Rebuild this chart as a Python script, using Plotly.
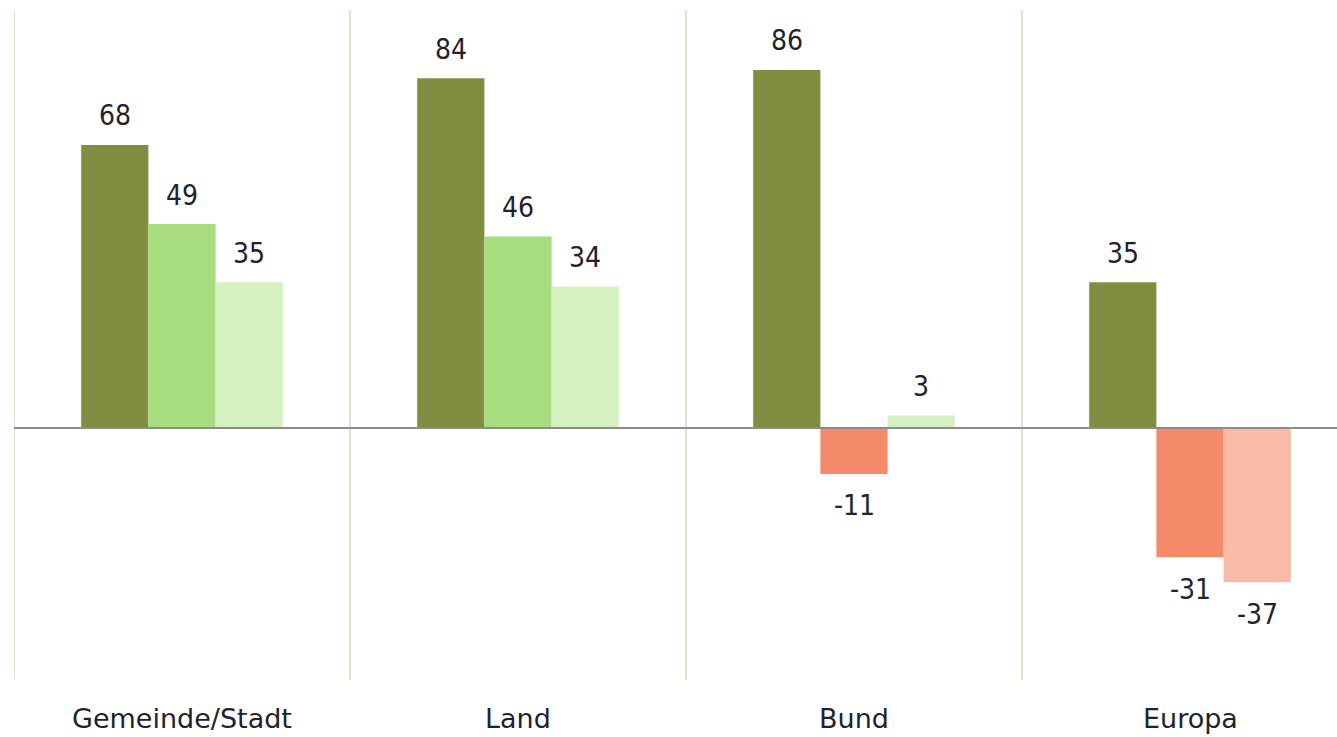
import plotly.graph_objects as go

categories = ["Gemeinde/Stadt", "Land", "Bund", "Europa"]
series_a = [68, 84, 86, 35]
series_b = [49, 46, -11, -31]
series_c = [35, 34, 3, -37]

pos_colors = ["#7F8E3F", "#A7DC7F", "#D4F1C2"]
neg_colors = ["#7F8E3F", "#F38A6A", "#F8BBA8"]

FONT = "DejaVu Sans Condensed, Liberation Sans Narrow, DejaVu Sans, sans-serif"
CAT_FONT = "DejaVu Sans, sans-serif"
TXT = "#22222E"

xs = list(range(len(categories)))
series = [series_a, series_b, series_c]
offsets = [-0.3, -0.1, 0.1]
bw = 0.2

fig = go.Figure()
annotations = []
for k, vals in enumerate(series):
    cols = [pos_colors[k] if v >= 0 else neg_colors[k] for v in vals]
    fig.add_trace(go.Bar(x=xs, y=vals, width=bw, offset=offsets[k],
                         marker=dict(color=cols, line=dict(width=0)),
                         showlegend=False, hoverinfo="skip"))
    for i, v in enumerate(vals):
        annotations.append(dict(x=i + offsets[k] + bw / 2, y=v, xref="x", yref="y",
                                text=str(v), showarrow=False,
                                yshift=29 if v >= 0 else -32,
                                font=dict(family=FONT, size=28, color=TXT)))

for i, c in enumerate(categories):
    annotations.append(dict(x=i, y=0, xref="x", yref="paper", text=c, showarrow=False,
                            yanchor="middle", yshift=-38,
                            font=dict(family=CAT_FONT, size=27, color=TXT)))

shapes = []
for sx in [-0.5, 0.5, 1.5, 2.5]:
    shapes.append(dict(type="line", x0=sx, x1=sx, y0=0, y1=1, xref="x", yref="paper",
                       line=dict(color="#E5DFD0", width=2), layer="below"))
shapes.append(dict(type="line", x0=-0.5, x1=3.5, y0=0, y1=0, xref="x", yref="y",
                   line=dict(color="#8C8C8C", width=2), layer="above"))

fig.update_layout(
    width=1337, height=737,
    margin=dict(l=14, r=0, t=10, b=57),
    paper_bgcolor="white", plot_bgcolor="white",
    xaxis=dict(range=[-0.5, 3.4375], showgrid=False, zeroline=False, showticklabels=False,
               showline=False, fixedrange=True),
    yaxis=dict(range=[-60.5, 100.4], showgrid=False, zeroline=False, showticklabels=False,
               showline=False, fixedrange=True),
    annotations=annotations, shapes=shapes,
    barmode="group",
)

fig.write_html("out.html")
